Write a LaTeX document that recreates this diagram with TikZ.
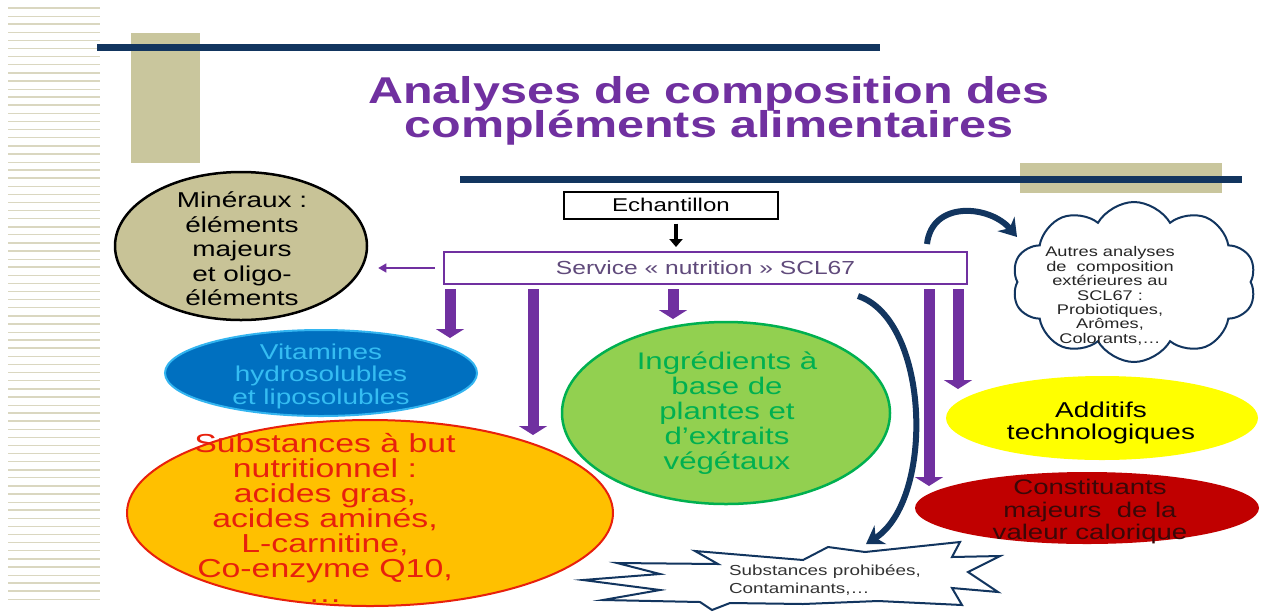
\documentclass[tikz,border=0pt]{standalone}
\usepackage{fontspec}
\setmainfont{Liberation Sans}
\usepackage{graphicx}
\usetikzlibrary{arrows.meta,shapes.geometric,shapes.symbols}

\definecolor{tanc}{HTML}{C9C69D}
\definecolor{stripec}{HTML}{DAD7C0}
\definecolor{navyc}{HTML}{12355F}
\definecolor{purplec}{HTML}{7030A0}
\definecolor{svctext}{HTML}{604A7B}
\definecolor{minfill}{HTML}{C8C397}
\definecolor{vitfill}{HTML}{0070C0}
\definecolor{vitline}{HTML}{33B5F0}
\definecolor{vittext}{HTML}{35BDF2}
\definecolor{subfill}{HTML}{FFC000}
\definecolor{subred}{HTML}{E8200C}
\definecolor{ingfill}{HTML}{92D050}
\definecolor{inggreen}{HTML}{00B050}
\definecolor{addfill}{HTML}{FFFF00}
\definecolor{confill}{HTML}{C00000}
\definecolor{context}{HTML}{3A0808}

% horizontally widened multi-line text: size, line distance, lines
\newcommand\hsx{1.3}
\newcommand\wtext[3]{{\fontsize{#1}{#2}\selectfont\scalebox{\hsx}[1]{\vbox{\lineskiplimit=-100pt\let\\\cr\halign{\hfil##\hfil\cr#3\crcr}}}}}
\newcommand\wtextl[3]{{\fontsize{#1}{#2}\selectfont\scalebox{\hsx}[1]{\vbox{\lineskiplimit=-100pt\let\\\cr\halign{##\hfil\cr#3\crcr}}}}}

\tikzset{
  txt/.style={inner sep=0pt, outer sep=0pt},
  blob/.style={ellipse, inner sep=0pt},
  bigarrow/.style={draw=purplec, line width=11pt, -{Triangle[width=28pt,length=9pt]}},
  navyarrow/.style={draw=navyc, line width=6pt, -{Stealth[length=17pt,width=22pt]}},
}

\begin{document}
\begin{tikzpicture}[x=1pt, y=-1pt]
\useasboundingbox (0,0) rectangle (1265,611);
\fill[white] (0,0) rectangle (1265,611);

% ruled margin on the left
\foreach \i in {0,...,73}{
  \pgfmathsetmacro\yy{8+\i*8.1}
  \pgfmathsetmacro\lw{mod(\i,3)==1 ? 0.7 : 1.6}
  \draw[stripec, line width=\lw pt] (8,\yy) -- (100,\yy);
}

% decorative bars
\fill[tanc] (131,33) rectangle (200,163);
\fill[navyc] (97,44) rectangle (880,51);
\fill[tanc] (1020,163) rectangle (1222,193);
\fill[navyc] (460,176) rectangle (1242,183);

% title
\node[txt, text=purplec] (title) at (709,111)
  {\bfseries\wtext{37.3}{34}{Analyses de composition des\\compléments alimentaires}};

% sample and laboratory
\node[draw=black, line width=2pt, fill=white, minimum width=214pt, minimum height=27pt, inner sep=0pt] (ech) at (671,205)
  {\wtext{18.5}{19}{Echantillon}};
\node[draw=purplec, line width=2.5pt, fill=white, minimum width=523pt, minimum height=32pt, inner sep=0pt] (svc) at (705.5,268)
  {\color{svctext}\wtext{18.9}{19}{Service « nutrition » SCL67}};

% analysed families
\node[blob, draw=black, line width=2.5pt, fill=minfill, minimum width=252pt, minimum height=148pt] (min) at (241,246) {};
\node[txt] (mint) at (242,249) {\wtext{21.5}{24.5}{Minéraux :\\éléments\\majeurs\\et oligo-\\éléments}};

\node[blob, draw=vitline, line width=2pt, fill=vitfill, minimum width=312pt, minimum height=86pt] (vit) at (321,373) {};
\node[txt, text=vittext] (vitt) at (321,376) {\wtext{21.5}{22.5}{Vitamines\\hydrosolubles\\et liposolubles}};

\node[blob, draw=subred, line width=2pt, fill=subfill, minimum width=486pt, minimum height=186pt] (sub) at (370,513) {};
\node[txt, text=subred] (subt) at (325,518) {\wtext{26}{25}{Substances à but\\nutritionnel :\\acides gras,\\acides aminés,\\L-carnitine,\\Co-enzyme Q10,\\\dots}};

\node[blob, draw=inggreen, line width=2.5pt, fill=ingfill, minimum width=328pt, minimum height=182pt] (ing) at (726,413) {};
\node[txt, text=inggreen] (ingt) at (727,413) {\wtext{24}{25}{Ingrédients à\\base de\\plantes et\\d’extraits\\végétaux}};

\node[blob, fill=addfill, minimum width=312pt, minimum height=84pt] (add) at (1102,418) {};
\node[txt, text=black] (addt) at (1101,423) {\wtext{21.5}{22.5}{Additifs\\technologiques}};

\node[blob, fill=confill, minimum width=344pt, minimum height=72pt] (con) at (1087,508) {};
\node[txt, text=context] (cont) at (1090,512) {\wtext{21.2}{22.5}{Constituants\\majeurs\ \ de la\\valeur calorique}};

\node[cloud, cloud puffs=10, cloud puff arc=120, aspect=1.55, draw=navyc, line width=2pt, fill=white,
      minimum width=244pt, minimum height=160pt, inner sep=0pt] (cloud) at (1134,282) {};
\node[txt, text=black!85] (cloudt) at (1110,296) {\wtext{14}{14.4}{Autres analyses\\de\ \ composition\\extérieures au\\SCL67 :\\Probiotiques,\\Arômes,\\Colorants,\dots}};

% burst for prohibited substances
\draw[navyc, line width=2pt, fill=white, line join=miter, miter limit=20]
  (583,580) -- (660,574) -- (617,563) -- (718,564) -- (695,551) -- (803,560) -- (828,547)
  -- (865,552) -- (960,542) -- (952,557) -- (1000,556) -- (968,572) -- (998,592) -- (952,588)
  -- (962,605) -- (878,601) -- (803,604) -- (730,603) -- (712,610) -- (700,602) -- (603,600)
  -- (660,590) -- cycle;
\node[txt, text=black!80] (start) at (825,580) {\wtextl{14.5}{17.5}{Substances prohibées,\\Contaminants,\dots}};

% arrow ends
\coordinate (tipVit) at (450,338);
\coordinate (tipSub) at (533,435);
\coordinate (tipIng) at (673,319);
\coordinate (tipCon) at (929,486);
\coordinate (tipAdd) at (958,389);
\coordinate (tipEch) at (676,247);
\coordinate (extStart) at (927,244);
\coordinate (extEnd) at (1017,237);
\coordinate (prohStart) at (858,296);
\coordinate (prohEnd) at (866,544);

% connectors
\draw[black, line width=4.5pt, -{Triangle[width=13pt,length=8pt]}] ([yshift=-4pt]ech.south -| tipEch) -- (tipEch);
\draw[purplec, line width=1.2pt, -{Triangle[width=9pt,length=8pt]}, shorten <=8pt, shorten >=10pt] (svc.west) -- (min.east |- svc.west);

\draw[bigarrow] ([yshift=-4pt]svc.south -| tipVit) -- (tipVit);
\draw[bigarrow] ([yshift=-4pt]svc.south -| tipSub) -- (tipSub);
\draw[bigarrow] ([yshift=-4pt]svc.south -| tipIng) -- (tipIng);
\draw[bigarrow] ([yshift=-4pt]svc.south -| tipCon) -- (tipCon);
\draw[bigarrow] ([yshift=-4pt]svc.south -| tipAdd) -- (tipAdd);

\draw[navyarrow] (extStart) .. controls (932,200) and (990,205) .. (extEnd);
\draw[navyarrow] (prohStart) .. controls (930,320) and (935,500) .. (prohEnd);
\end{tikzpicture}
\end{document}
